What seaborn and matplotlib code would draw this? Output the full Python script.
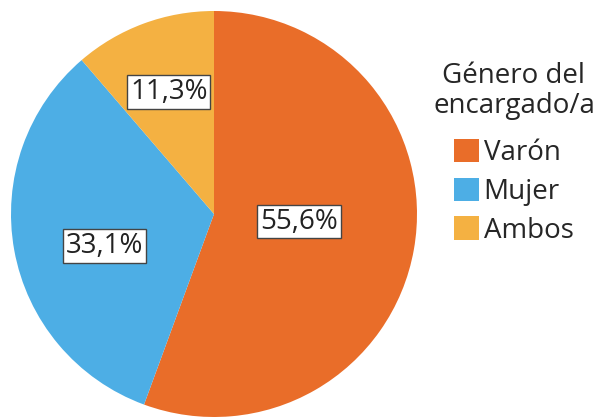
import numpy as np
import matplotlib
matplotlib.use("Agg")
import matplotlib.pyplot as plt
import seaborn as sns
from matplotlib.patches import Patch

categories = ["Varón", "Mujer", "Ambos"]
values = [55.6, 33.1, 11.3]
labels = ["55,6%", "33,1%", "11,3%"]
colors = ["#E96D29", "#4DAEE5", "#F4B142"]
legend_title = "Género del\nencargado/a"

sns.set_theme(style="white")
plt.rcParams["font.family"] = ["Open Sans", "DejaVu Sans"]

fig = plt.figure(figsize=(5.95, 4.17), dpi=100)
ax = fig.add_axes([11/595, 0.0, 406/595, 406/417])
wedges, _ = ax.pie(values, colors=colors, startangle=90, counterclock=False,
                   radius=1.0, wedgeprops=dict(linewidth=0))
ax.set_xlim(-1, 1)
ax.set_ylim(-1, 1)
ax.set_aspect("equal")

label_r = [0.42, 0.56, 0.64]
label_shift = [5.0, 6.0, 0.0]
for w, lab, r, sh in zip(wedges, labels, label_r, label_shift):
    mid = np.deg2rad((w.theta1 + w.theta2) / 2 + sh)
    ax.text(r*np.cos(mid), r*np.sin(mid), lab, ha="center", va="center",
            fontsize=20, color="#222222",
            bbox=dict(boxstyle="square,pad=0.1", facecolor="white",
                      edgecolor="#444444", linewidth=1.0))

handles = [Patch(facecolor=c, edgecolor="none") for c in colors]
leg = fig.legend(handles, categories, loc="upper center",
                 bbox_to_anchor=(514/595, 1 - 62/417), frameon=False,
                 fontsize=20, title=legend_title, title_fontsize=20,
                 handlelength=0.9, handleheight=0.9, handletextpad=0.15,
                 labelspacing=0.38, borderpad=0, borderaxespad=0)
leg.get_title().set_linespacing(1.08)
leg.get_title().set_multialignment("center")
leg._legend_box.sep = 14

fig.savefig("out.png", dpi=100)
